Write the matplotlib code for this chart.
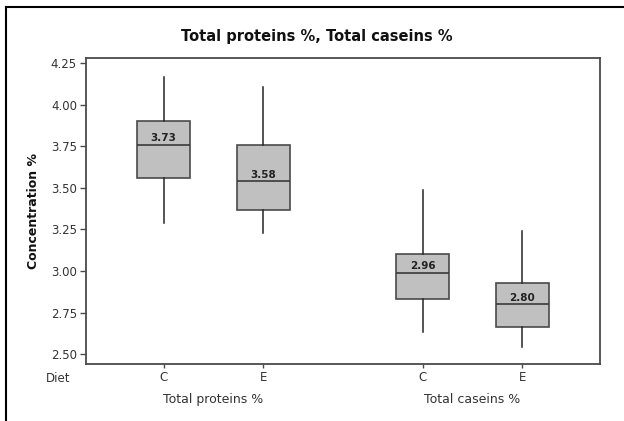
import matplotlib
matplotlib.use("Agg")
import matplotlib.pyplot as plt
from matplotlib.lines import Line2D
from matplotlib.transforms import blended_transform_factory

# ── Data ─────────────────────────────────────────────────────────────────────
groups = ["Total proteins %", "Total proteins %", "Total caseins %", "Total caseins %"]
diets = ["C", "E", "C", "E"]
whislo = [3.29, 3.23, 2.63, 2.54]
q1 = [3.56, 3.37, 2.83, 2.66]
med = [3.76, 3.54, 2.99, 2.80]
q3 = [3.90, 3.76, 3.10, 2.93]
whishi = [4.17, 4.105, 3.49, 3.24]
means = [3.73, 3.58, 2.96, 2.80]

group_names = ["Total proteins %", "Total caseins %"]
positions = [1.0, 2.0, 3.6, 4.6]

# ── Plot ─────────────────────────────────────────────────────────────────────
plt.rcParams["font.family"] = "DejaVu Sans"

fig = plt.figure(figsize=(6.24, 4.21), dpi=100)
ax = fig.add_axes([86 / 624, 1 - 364 / 421, (600 - 86) / 624, (364 - 58) / 421])

stats = []
for i in range(len(diets)):
    stats.append({
        "whislo": whislo[i], "q1": q1[i], "med": med[i],
        "q3": q3[i], "whishi": whishi[i], "fliers": [],
    })

ax.bxp(
    stats, positions=positions, widths=0.53, patch_artist=True,
    showcaps=False, showfliers=False,
    boxprops=dict(facecolor="#c0c0c0", edgecolor="#4a4a4a", linewidth=1.2),
    medianprops=dict(color="#3a3a3a", linewidth=1.2),
    whiskerprops=dict(color="#262626", linewidth=1.1),
)

for x, m, mu in zip(positions, med, means):
    ax.annotate(f"{mu:.2f}", xy=(x, m), xytext=(0, 1.2), textcoords="offset points",
                ha="center", va="bottom", fontsize=7.5, fontweight="bold", color="#222222")

ax.set_xlim(0.22, 5.38)
ax.set_ylim(2.44, 4.282)
ax.set_yticks([2.50, 2.75, 3.00, 3.25, 3.50, 3.75, 4.00, 4.25])
ax.set_yticklabels([f"{v:.2f}" for v in ax.get_yticks()])
ax.set_xticks(positions)
ax.set_xticklabels(diets)

ax.tick_params(axis="y", length=4.5, width=1, color="#4a4a4a", pad=2,
               labelsize=8.5, labelcolor="#333333")
ax.tick_params(axis="x", length=3, width=1, color="#4a4a4a", pad=2,
               labelsize=8.5, labelcolor="#333333")

for sp in ax.spines.values():
    sp.set_color("#4a4a4a")
    sp.set_linewidth(1.3)

ax.set_ylabel("Concentration %", fontsize=9, fontweight="bold", color="#111111", labelpad=8)

# factor labels under the axis
ax.text(-27.5 / 514, -0.049, "Diet", transform=ax.transAxes, ha="center", va="center",
        fontsize=8.5, color="#333333")
trans = blended_transform_factory(ax.transData, ax.transAxes)
for k, name in enumerate(group_names):
    xc = (positions[2 * k] + positions[2 * k + 1]) / 2
    ax.text(xc, -0.117, name, transform=trans, ha="center", va="center",
            fontsize=9, color="#333333")

fig.text(317 / 624, 1 - 37 / 421, "Total proteins %, Total caseins %", ha="center",
         va="center", fontsize=10.5, fontweight="bold", color="#111111")

# window frame (left and top edges only visible in the reference)
fig.add_artist(Line2D([6 / 624, 6 / 624], [0, 1 - 7 / 421], transform=fig.transFigure,
                      color="black", linewidth=1.5))
fig.add_artist(Line2D([6 / 624, 1], [1 - 7 / 421, 1 - 7 / 421], transform=fig.transFigure,
                      color="black", linewidth=1.5))

fig.savefig("out.png", dpi=100)
